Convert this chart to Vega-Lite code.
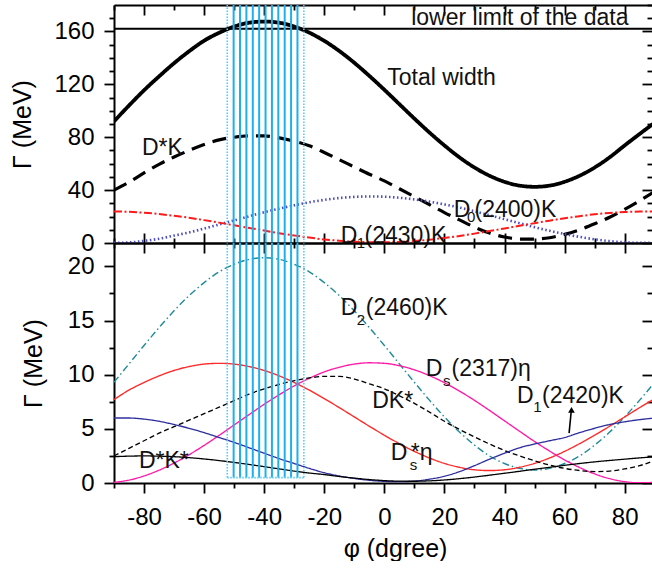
{
  "$schema": "https://vega.github.io/schema/vega-lite/v6.json",
  "background": "white",
  "padding": {"left": 10, "top": 4, "right": 0, "bottom": 0},
  "bounds": "flush",
  "spacing": 0,
  "resolve": {"scale": {"color": "independent", "strokeDash": "independent", "strokeWidth": "independent"}},
  "config": {
    "view": {"stroke": null},
    "font": "Liberation Sans",
    "axis": {
      "domainColor": "black", "domainWidth": 2, "tickColor": "black", "tickWidth": 1.8,
      "labelFont": "Liberation Sans", "labelFontSize": 24, "labelColor": "black",
      "titleFont": "Liberation Sans", "titleFontSize": 25, "titleFontWeight": "normal", "titleColor": "black",
      "grid": false, "labelFlush": false, "labelOverlap": false
    }
  },
  "datasets": {
    "top": [
      {"phi": -90, "Total": 92, "DstarK": 40, "D0": 0.1, "D1a": 23.9},
      {"phi": -85, "Total": 104, "DstarK": 46, "D0": 0.4, "D1a": 23.55},
      {"phi": -80, "Total": 115.5, "DstarK": 53, "D0": 1.6, "D1a": 22.9},
      {"phi": -75, "Total": 126, "DstarK": 59.5, "D0": 3.2, "D1a": 21.9},
      {"phi": -70, "Total": 136, "DstarK": 65, "D0": 5.6, "D1a": 20.6},
      {"phi": -65, "Total": 145, "DstarK": 70, "D0": 8.0, "D1a": 19.1},
      {"phi": -60, "Total": 153, "DstarK": 74.5, "D0": 10.9, "D1a": 17.3},
      {"phi": -55, "Total": 159, "DstarK": 78, "D0": 14.0, "D1a": 15.4},
      {"phi": -50, "Total": 163.7, "DstarK": 80, "D0": 17.1, "D1a": 13.4},
      {"phi": -45, "Total": 166.6, "DstarK": 81, "D0": 20.2, "D1a": 11.4},
      {"phi": -40, "Total": 167.5, "DstarK": 81, "D0": 23.3, "D1a": 9.4},
      {"phi": -35, "Total": 166.6, "DstarK": 79.5, "D0": 26.0, "D1a": 7.4},
      {"phi": -30, "Total": 163.7, "DstarK": 77, "D0": 28.5, "D1a": 5.7},
      {"phi": -25, "Total": 159.1, "DstarK": 73.5, "D0": 30.8, "D1a": 4.1},
      {"phi": -20, "Total": 152.9, "DstarK": 68.5, "D0": 32.6, "D1a": 2.7},
      {"phi": -15, "Total": 145.2, "DstarK": 63, "D0": 34.0, "D1a": 1.7},
      {"phi": -10, "Total": 136.3, "DstarK": 57.5, "D0": 34.9, "D1a": 1.0},
      {"phi": -5, "Total": 126.4, "DstarK": 52, "D0": 35.2, "D1a": 0.6},
      {"phi": 0, "Total": 115.9, "DstarK": 47, "D0": 35.0, "D1a": 0.5},
      {"phi": 5, "Total": 105, "DstarK": 41, "D0": 34.2, "D1a": 0.85},
      {"phi": 10, "Total": 94.1, "DstarK": 35, "D0": 33.0, "D1a": 1.5},
      {"phi": 15, "Total": 83.6, "DstarK": 29, "D0": 31.3, "D1a": 2.5},
      {"phi": 20, "Total": 73.8, "DstarK": 23, "D0": 29.2, "D1a": 3.8},
      {"phi": 25, "Total": 64.8, "DstarK": 17.5, "D0": 26.8, "D1a": 5.3},
      {"phi": 30, "Total": 57.1, "DstarK": 12, "D0": 24.0, "D1a": 7.1},
      {"phi": 35, "Total": 50.9, "DstarK": 7.5, "D0": 21.0, "D1a": 9.0},
      {"phi": 40, "Total": 46.3, "DstarK": 4.5, "D0": 18.0, "D1a": 11.0},
      {"phi": 45, "Total": 43.4, "DstarK": 3, "D0": 15.0, "D1a": 13.0},
      {"phi": 50, "Total": 42.5, "DstarK": 3, "D0": 12.0, "D1a": 15.0},
      {"phi": 55, "Total": 43.4, "DstarK": 4, "D0": 9.2, "D1a": 16.9},
      {"phi": 60, "Total": 46.3, "DstarK": 6.5, "D0": 6.8, "D1a": 18.7},
      {"phi": 65, "Total": 50.9, "DstarK": 10, "D0": 4.6, "D1a": 20.3},
      {"phi": 70, "Total": 57.1, "DstarK": 14.5, "D0": 2.8, "D1a": 21.7},
      {"phi": 75, "Total": 64.8, "DstarK": 19.5, "D0": 1.4, "D1a": 22.7},
      {"phi": 80, "Total": 73.8, "DstarK": 25.5, "D0": 0.5, "D1a": 23.4},
      {"phi": 85, "Total": 82.5, "DstarK": 32, "D0": 0.1, "D1a": 23.8},
      {"phi": 90, "Total": 91, "DstarK": 39, "D0": 0.1, "D1a": 23.9}
    ],
    "bottom": [
      {"phi": -90, "D2": 9.3, "Dseta": 7.7, "Ds2317": 0.06, "DKstar": 2.5, "D1b": 6.0, "DstarKstar": 2.43},
      {"phi": -85, "D2": 11.0, "Dseta": 8.58, "Ds2317": 0.27, "DKstar": 3.2, "D1b": 6.0, "DstarKstar": 2.48},
      {"phi": -80, "D2": 12.7, "Dseta": 9.28, "Ds2317": 0.65, "DKstar": 3.9, "D1b": 5.9, "DstarKstar": 2.5},
      {"phi": -75, "D2": 14.35, "Dseta": 9.89, "Ds2317": 1.18, "DKstar": 4.6, "D1b": 5.7, "DstarKstar": 2.48},
      {"phi": -70, "D2": 15.9, "Dseta": 10.39, "Ds2317": 1.84, "DKstar": 5.2, "D1b": 5.4, "DstarKstar": 2.43},
      {"phi": -65, "D2": 17.3, "Dseta": 10.75, "Ds2317": 2.61, "DKstar": 5.8, "D1b": 5.05, "DstarKstar": 2.34},
      {"phi": -60, "D2": 18.5, "Dseta": 10.98, "Ds2317": 3.47, "DKstar": 6.4, "D1b": 4.65, "DstarKstar": 2.22},
      {"phi": -55, "D2": 19.5, "Dseta": 11.05, "Ds2317": 4.4, "DKstar": 7.0, "D1b": 4.2, "DstarKstar": 2.07},
      {"phi": -50, "D2": 20.2, "Dseta": 10.98, "Ds2317": 5.36, "DKstar": 7.6, "D1b": 3.75, "DstarKstar": 1.9},
      {"phi": -45, "D2": 20.65, "Dseta": 10.75, "Ds2317": 6.32, "DKstar": 8.2, "D1b": 3.25, "DstarKstar": 1.71},
      {"phi": -40, "D2": 20.8, "Dseta": 10.39, "Ds2317": 7.27, "DKstar": 8.7, "D1b": 2.75, "DstarKstar": 1.51},
      {"phi": -35, "D2": 20.65, "Dseta": 9.89, "Ds2317": 8.15, "DKstar": 9.1, "D1b": 2.25, "DstarKstar": 1.3},
      {"phi": -30, "D2": 20.2, "Dseta": 9.28, "Ds2317": 8.97, "DKstar": 9.45, "D1b": 1.8, "DstarKstar": 1.1},
      {"phi": -25, "D2": 19.5, "Dseta": 8.58, "Ds2317": 9.67, "DKstar": 9.7, "D1b": 1.35, "DstarKstar": 0.92},
      {"phi": -20, "D2": 18.5, "Dseta": 7.79, "Ds2317": 10.26, "DKstar": 9.85, "D1b": 0.95, "DstarKstar": 0.78},
      {"phi": -15, "D2": 17.3, "Dseta": 6.96, "Ds2317": 10.69, "DKstar": 9.85, "D1b": 0.65, "DstarKstar": 0.6},
      {"phi": -10, "D2": 15.9, "Dseta": 6.1, "Ds2317": 10.98, "DKstar": 9.6, "D1b": 0.42, "DstarKstar": 0.45},
      {"phi": -5, "D2": 14.35, "Dseta": 5.24, "Ds2317": 11.1, "DKstar": 9.15, "D1b": 0.25, "DstarKstar": 0.32},
      {"phi": 0, "D2": 12.7, "Dseta": 4.41, "Ds2317": 11.05, "DKstar": 8.7, "D1b": 0.15, "DstarKstar": 0.22},
      {"phi": 5, "D2": 11.0, "Dseta": 3.63, "Ds2317": 10.83, "DKstar": 8.05, "D1b": 0.12, "DstarKstar": 0.17},
      {"phi": 10, "D2": 9.3, "Dseta": 2.92, "Ds2317": 10.45, "DKstar": 7.35, "D1b": 0.17, "DstarKstar": 0.16},
      {"phi": 15, "D2": 7.65, "Dseta": 2.31, "Ds2317": 9.92, "DKstar": 6.55, "D1b": 0.35, "DstarKstar": 0.2},
      {"phi": 20, "D2": 6.1, "Dseta": 1.81, "Ds2317": 9.26, "DKstar": 5.7, "D1b": 0.62, "DstarKstar": 0.28},
      {"phi": 25, "D2": 4.7, "Dseta": 1.45, "Ds2317": 8.49, "DKstar": 4.95, "D1b": 1.05, "DstarKstar": 0.4},
      {"phi": 30, "D2": 3.5, "Dseta": 1.22, "Ds2317": 7.63, "DKstar": 4.25, "D1b": 1.6, "DstarKstar": 0.55},
      {"phi": 35, "D2": 2.5, "Dseta": 1.15, "Ds2317": 6.7, "DKstar": 3.6, "D1b": 2.2, "DstarKstar": 0.72},
      {"phi": 40, "D2": 1.8, "Dseta": 1.22, "Ds2317": 5.74, "DKstar": 3.0, "D1b": 2.75, "DstarKstar": 0.9},
      {"phi": 45, "D2": 1.35, "Dseta": 1.45, "Ds2317": 4.78, "DKstar": 2.5, "D1b": 3.25, "DstarKstar": 1.08},
      {"phi": 50, "D2": 1.2, "Dseta": 1.81, "Ds2317": 3.83, "DKstar": 2.05, "D1b": 3.6, "DstarKstar": 1.27},
      {"phi": 55, "D2": 1.35, "Dseta": 2.31, "Ds2317": 2.95, "DKstar": 1.65, "D1b": 3.9, "DstarKstar": 1.45},
      {"phi": 60, "D2": 1.8, "Dseta": 2.92, "Ds2317": 2.13, "DKstar": 1.35, "D1b": 4.2, "DstarKstar": 1.63},
      {"phi": 65, "D2": 2.5, "Dseta": 3.63, "Ds2317": 1.43, "DKstar": 1.15, "D1b": 4.65, "DstarKstar": 1.8},
      {"phi": 70, "D2": 3.5, "Dseta": 4.41, "Ds2317": 0.84, "DKstar": 1.05, "D1b": 5.05, "DstarKstar": 1.95},
      {"phi": 75, "D2": 4.7, "Dseta": 5.24, "Ds2317": 0.4, "DKstar": 1.1, "D1b": 5.4, "DstarKstar": 2.08},
      {"phi": 80, "D2": 6.1, "Dseta": 6.1, "Ds2317": 0.12, "DKstar": 1.3, "D1b": 5.65, "DstarKstar": 2.2},
      {"phi": 85, "D2": 7.65, "Dseta": 6.96, "Ds2317": 0.02, "DKstar": 1.6, "D1b": 5.85, "DstarKstar": 2.32},
      {"phi": 90, "D2": 9.3, "Dseta": 7.79, "Ds2317": 0.06, "DKstar": 2.1, "D1b": 6.0, "DstarKstar": 2.42}
    ],
    "band": [
      {"phi": -52.3, "kind": "edge", "lo": 0.5},
      {"phi": -50.175, "kind": "inner", "lo": 0.5},
      {"phi": -48.05, "kind": "inner", "lo": 0.5},
      {"phi": -45.925, "kind": "inner", "lo": 0.5},
      {"phi": -43.8, "kind": "inner", "lo": 0.5},
      {"phi": -41.675, "kind": "inner", "lo": 0.5},
      {"phi": -39.55, "kind": "inner", "lo": 0.5},
      {"phi": -37.425, "kind": "inner", "lo": 0.5},
      {"phi": -35.3, "kind": "inner", "lo": 0.5},
      {"phi": -33.175, "kind": "inner", "lo": 0.5},
      {"phi": -31.05, "kind": "inner", "lo": 0.5},
      {"phi": -28.925, "kind": "inner", "lo": 0.5},
      {"phi": -26.8, "kind": "edge", "lo": 0.5}
    ],
    "bandBottom": [{"a": -52.3, "b": -26.8, "lo": 0.5}],
    "limit": [{"g": 162}],
    "topText": [
      {"phi": 8.93, "g": 165.1, "t": "lower limit of the data"},
      {"phi": 0.95, "g": 119.7, "t": "Total width"},
      {"phi": -80.7, "g": 66.8, "t": "D*K"},
      {"phi": 23.1, "g": 19.9, "t": "D"},
      {"phi": 30.0, "g": 19.9, "t": "(2400)K"},
      {"phi": -14.5, "g": 0.3, "t": "D"},
      {"phi": -6.6, "g": 0.3, "t": "(2430)K"}
    ],
    "topSub": [
      {"phi": 27.5, "g": 16.1, "t": "0"},
      {"phi": -9.2, "g": -3.5, "t": "1"}
    ],
    "botText": [
      {"phi": -14.5, "g": 15.54, "t": "D"},
      {"phi": -6.2, "g": 15.54, "t": "(2460)K"},
      {"phi": 13.8, "g": 9.85, "t": "D"},
      {"phi": 22.35, "g": 9.85, "t": "(2317)η"},
      {"phi": -4.05, "g": 6.92, "t": "DK*"},
      {"phi": 44.2, "g": 7.39, "t": "D"},
      {"phi": 52.5, "g": 7.39, "t": "(2420)K"},
      {"phi": 2.1, "g": 2.15, "t": "D"},
      {"phi": 8.8, "g": 2.15, "t": "*η"},
      {"phi": -81.7, "g": 1.38, "t": "D*K*"}
    ],
    "botSub": [
      {"phi": -9.2, "g": 14.6, "t": "2"},
      {"phi": 19.5, "g": 8.92, "t": "s"},
      {"phi": 49.55, "g": 6.6, "t": "1"},
      {"phi": 8.45, "g": 1.23, "t": "s"}
    ],
    "arrow": [{"phi": 61.5, "g": 4.6, "phi2": 62.2, "g2": 6.6}],
    "arrowHead": [{"phi": 62.3, "g": 6.75}]
  },
  "vconcat": [
    {
      "width": 538,
      "height": 238,
      "resolve": {"axis": {"x": "independent", "y": "independent"}},
      "layer": [
        {
          "data": {"name": "top"},
          "transform": [{"fold": ["Total", "DstarK", "D0", "D1a"], "as": ["series", "gamma"]}],
          "mark": {"type": "line", "interpolate": "monotone", "clip": true},
          "encoding": {
            "x": {"field": "phi", "type": "quantitative", "scale": {"domain": [-90, 89.1], "nice": false},
              "axis": {"orient": "bottom", "values": [-90,-80,-70,-60,-50,-40,-30,-20,-10,0,10,20,30,40,50,60,70,80,90], "labels": false, "title": null,
                "tickSize": {"condition": {"test": "datum.value % 20 === 0", "value": -10}, "value": -5}}},
            "y": {"field": "gamma", "type": "quantitative", "scale": {"domain": [0, 180], "nice": false},
              "axis": {"orient": "left", "values": [0,10,20,30,40,50,60,70,80,90,100,110,120,130,140,150,160,170],
                "labelExpr": "datum.value % 40 === 0 ? datum.label : ''", "labelPadding": 10,
                "tickSize": {"condition": {"test": "datum.value % 40 === 0", "value": 10}, "value": 5},
                "title": "Γ (MeV)", "titlePadding": 18}},
            "detail": {"field": "series"},
            "color": {"field": "series", "type": "nominal", "legend": null,
              "scale": {"domain": ["Total", "DstarK", "D0", "D1a"], "range": ["#000000", "#000000", "#4b4bc4", "#ff1a1a"]}},
            "strokeDash": {"field": "series", "type": "nominal", "legend": null,
              "scale": {"domain": ["Total", "DstarK", "D0", "D1a"], "range": [[1, 0], [14, 8], [1.5, 2.5], [8, 2.5, 2, 2.5]]}},
            "strokeWidth": {"field": "series", "type": "ordinal", "legend": null,
              "scale": {"domain": ["Total", "DstarK", "D0", "D1a"], "range": [3.8, 2, 1.5, 1.5]}}
          }
        },
        {
          "data": {"name": "limit"},
          "mark": {"type": "rule", "color": "black", "strokeWidth": 2},
          "encoding": {
            "y": {"field": "g", "type": "quantitative", "scale": {"domain": [0, 180], "nice": false}, "axis": null}
          }
        },
        {
          "data": {"name": "band"},
          "transform": [{"filter": "datum.kind === 'inner'"}],
          "mark": {"type": "rule", "color": "#1eb0ea", "strokeWidth": 2},
          "encoding": {
            "x": {"field": "phi", "type": "quantitative", "scale": {"domain": [-90, 89.1], "nice": false}, "axis": null},
            "y": {"datum": 0, "type": "quantitative", "scale": {"domain": [0, 180], "nice": false}, "axis": null},
            "y2": {"datum": 180}
          }
        },
        {
          "data": {"name": "band"},
          "transform": [{"filter": "datum.kind === 'edge'"}],
          "mark": {"type": "rule", "color": "#5cc8f0", "strokeWidth": 1.6, "strokeDash": [1.5, 1.5]},
          "encoding": {
            "x": {"field": "phi", "type": "quantitative", "scale": {"domain": [-90, 89.1], "nice": false}, "axis": null},
            "y": {"datum": 0, "type": "quantitative", "scale": {"domain": [0, 180], "nice": false}, "axis": null},
            "y2": {"datum": 180}
          }
        },
        {
          "data": {"name": "topText"},
          "mark": {"type": "text", "align": "left", "baseline": "alphabetic", "fontSize": 23, "font": "Liberation Sans", "color": "#111111"},
          "encoding": {
            "x": {"field": "phi", "type": "quantitative", "scale": {"domain": [-90, 89.1], "nice": false},
              "axis": {"orient": "top", "values": [-90,-80,-70,-60,-50,-40,-30,-20,-10,0,10,20,30,40,50,60,70,80,90], "labels": false, "title": null,
                "tickSize": {"condition": {"test": "datum.value % 20 === 0", "value": -10}, "value": -5}}},
            "y": {"field": "g", "type": "quantitative", "scale": {"domain": [0, 180], "nice": false},
              "axis": {"orient": "right", "values": [0,10,20,30,40,50,60,70,80,90,100,110,120,130,140,150,160,170,180], "labels": false, "title": null, "domain": false,
                "tickSize": {"condition": {"test": "datum.value % 40 === 0", "value": -10}, "value": -5}}},
            "text": {"field": "t"}
          }
        },
        {
          "data": {"name": "topSub"},
          "mark": {"type": "text", "align": "left", "baseline": "alphabetic", "fontSize": 15, "font": "Liberation Sans", "color": "#111111"},
          "encoding": {
            "x": {"field": "phi", "type": "quantitative", "scale": {"domain": [-90, 89.1], "nice": false}, "axis": null},
            "y": {"field": "g", "type": "quantitative", "scale": {"domain": [0, 180], "nice": false}, "axis": null},
            "text": {"field": "t"}
          }
        }
      ]
    },
    {
      "width": 538,
      "height": 240,
      "resolve": {"axis": {"x": "independent", "y": "independent"}},
      "layer": [
        {
          "data": {"name": "bottom"},
          "transform": [{"fold": ["D2", "Dseta", "Ds2317", "DKstar", "D1b", "DstarKstar"], "as": ["series", "gamma"]}],
          "mark": {"type": "line", "interpolate": "monotone", "clip": true},
          "encoding": {
            "x": {"field": "phi", "type": "quantitative", "scale": {"domain": [-90, 89.1], "nice": false},
              "axis": {"orient": "bottom", "values": [-90,-80,-70,-60,-50,-40,-30,-20,-10,0,10,20,30,40,50,60,70,80,90],
                "labelExpr": "datum.value % 20 === 0 ? (datum.value < 0 ? '-' : '') + abs(datum.value) : ''",
                "labelPadding": 12,
                "tickSize": {"condition": {"test": "datum.value % 20 === 0", "value": 10}, "value": 5},
                "title": "φ (dgree)", "titlePadding": 7, "titleX": 281, "titleAlign": "center"}},
            "y": {"field": "gamma", "type": "quantitative", "scale": {"domain": [0, 22.16], "nice": false},
              "axis": {"orient": "left", "values": [0, 2.5, 5, 7.5, 10, 12.5, 15, 17.5, 20],
                "labelExpr": "datum.value % 5 === 0 ? datum.label : ''", "labelPadding": 10,
                "tickSize": {"condition": {"test": "datum.value % 5 === 0", "value": 10}, "value": 5},
                "title": "Γ (MeV)", "titlePadding": 21}},
            "detail": {"field": "series"},
            "color": {"field": "series", "type": "nominal", "legend": null,
              "scale": {"domain": ["D2", "Dseta", "Ds2317", "DKstar", "D1b", "DstarKstar"],
                "range": ["#1f8a9a", "#ff2a2a", "#ff1aa8", "#000000", "#2e2e9e", "#000000"]}},
            "strokeDash": {"field": "series", "type": "nominal", "legend": null,
              "scale": {"domain": ["D2", "Dseta", "Ds2317", "DKstar", "D1b", "DstarKstar"],
                "range": [[7, 3, 1.5, 3], [1, 0], [1, 0], [5, 3], [1, 0], [1, 0]]}},
            "strokeWidth": {"field": "series", "type": "ordinal", "legend": null,
              "scale": {"domain": ["D2", "Dseta", "Ds2317", "DKstar", "D1b", "DstarKstar"], "range": [1.4, 1.3, 1.3, 1.2, 1.3, 1.2]}}
          }
        },
        {
          "data": {"name": "band"},
          "transform": [{"filter": "datum.kind === 'inner'"}],
          "mark": {"type": "rule", "color": "#1eb0ea", "strokeWidth": 2},
          "encoding": {
            "x": {"field": "phi", "type": "quantitative", "scale": {"domain": [-90, 89.1], "nice": false}, "axis": null},
            "y": {"field": "lo", "type": "quantitative", "scale": {"domain": [0, 22.16], "nice": false}, "axis": null},
            "y2": {"datum": 22.16}
          }
        },
        {
          "data": {"name": "band"},
          "transform": [{"filter": "datum.kind === 'edge'"}],
          "mark": {"type": "rule", "color": "#5cc8f0", "strokeWidth": 1.6, "strokeDash": [1.5, 1.5]},
          "encoding": {
            "x": {"field": "phi", "type": "quantitative", "scale": {"domain": [-90, 89.1], "nice": false}, "axis": null},
            "y": {"field": "lo", "type": "quantitative", "scale": {"domain": [0, 22.16], "nice": false}, "axis": null},
            "y2": {"datum": 22.16}
          }
        },
        {
          "data": {"name": "bandBottom"},
          "mark": {"type": "rule", "color": "#5cc8f0", "strokeWidth": 1.6, "strokeDash": [1.5, 1.5]},
          "encoding": {
            "x": {"field": "a", "type": "quantitative", "scale": {"domain": [-90, 89.1], "nice": false}, "axis": null},
            "x2": {"field": "b"},
            "y": {"field": "lo", "type": "quantitative", "scale": {"domain": [0, 22.16], "nice": false}, "axis": null}
          }
        },
        {
          "data": {"name": "arrow"},
          "mark": {"type": "rule", "color": "black", "strokeWidth": 1.6},
          "encoding": {
            "x": {"field": "phi", "type": "quantitative", "scale": {"domain": [-90, 89.1], "nice": false}, "axis": null},
            "x2": {"field": "phi2"},
            "y": {"field": "g", "type": "quantitative", "scale": {"domain": [0, 22.16], "nice": false}, "axis": null},
            "y2": {"field": "g2"}
          }
        },
        {
          "data": {"name": "arrowHead"},
          "mark": {"type": "point", "shape": "triangle-up", "filled": true, "color": "black", "size": 45, "opacity": 1},
          "encoding": {
            "x": {"field": "phi", "type": "quantitative", "scale": {"domain": [-90, 89.1], "nice": false}, "axis": null},
            "y": {"field": "g", "type": "quantitative", "scale": {"domain": [0, 22.16], "nice": false}, "axis": null}
          }
        },
        {
          "data": {"name": "botText"},
          "mark": {"type": "text", "align": "left", "baseline": "alphabetic", "fontSize": 23, "font": "Liberation Sans", "color": "#111111"},
          "encoding": {
            "x": {"field": "phi", "type": "quantitative", "scale": {"domain": [-90, 89.1], "nice": false},
              "axis": {"orient": "top", "values": [-90,-80,-70,-60,-50,-40,-30,-20,-10,0,10,20,30,40,50,60,70,80,90], "labels": false, "title": null,
                "tickSize": {"condition": {"test": "datum.value % 20 === 0", "value": -10}, "value": -5}}},
            "y": {"field": "g", "type": "quantitative", "scale": {"domain": [0, 22.16], "nice": false},
              "axis": {"orient": "right", "values": [0, 2.5, 5, 7.5, 10, 12.5, 15, 17.5, 20], "labels": false, "title": null, "domain": false,
                "tickSize": {"condition": {"test": "datum.value % 5 === 0", "value": -10}, "value": -5}}},
            "text": {"field": "t"}
          }
        },
        {
          "data": {"name": "botSub"},
          "mark": {"type": "text", "align": "left", "baseline": "alphabetic", "fontSize": 15, "font": "Liberation Sans", "color": "#111111"},
          "encoding": {
            "x": {"field": "phi", "type": "quantitative", "scale": {"domain": [-90, 89.1], "nice": false}, "axis": null},
            "y": {"field": "g", "type": "quantitative", "scale": {"domain": [0, 22.16], "nice": false}, "axis": null},
            "text": {"field": "t"}
          }
        }
      ]
    }
  ]
}
